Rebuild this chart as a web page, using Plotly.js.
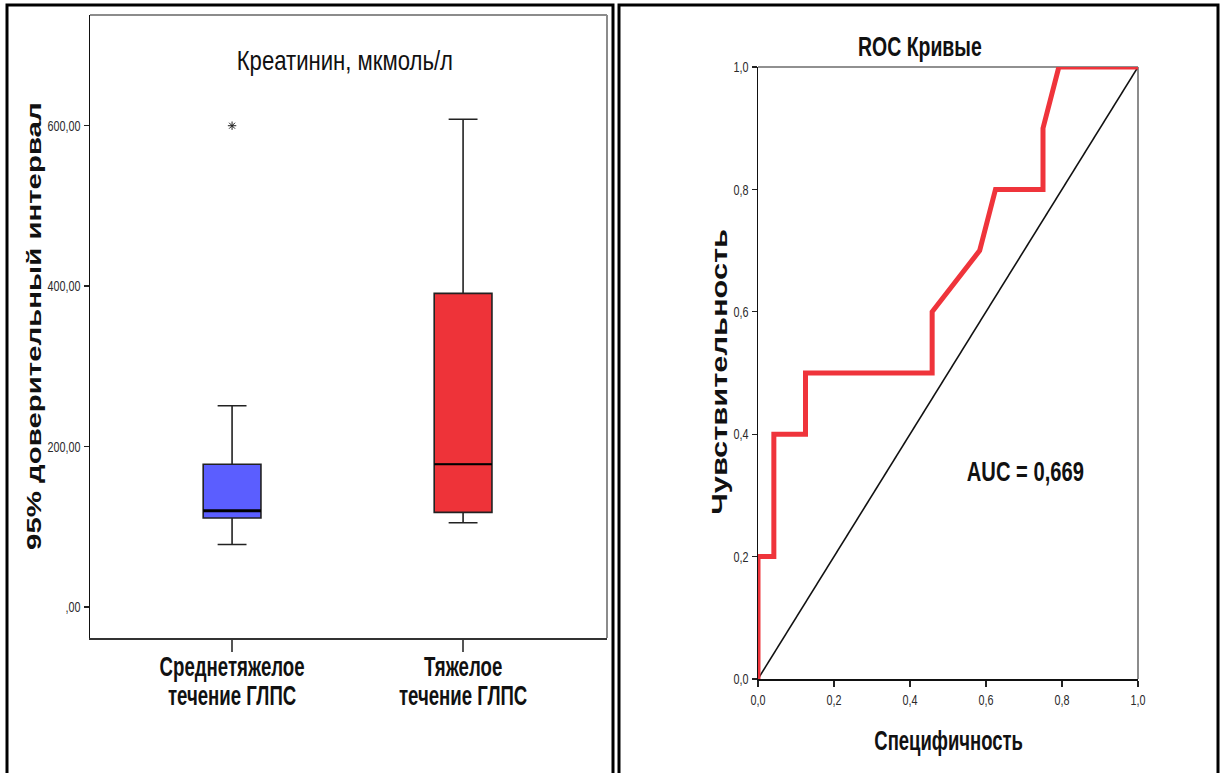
<!DOCTYPE html>
<html>
<head>
<meta charset="utf-8">
<script src="https://cdn.plot.ly/plotly-3.0.1.min.js"></script>
<style>
  html, body { margin: 0; padding: 0; background: #fff; }
  #chart { width: 1224px; height: 773px; }
</style>
</head>
<body>
<div id="chart"></div>
<script>
// Креатинин по группам тяжести ГЛПС (боксплоты)
const groupLabels = ['Среднетяжелое<br>течение ГЛПС', 'Тяжелое<br>течение ГЛПС'];
const groupPos = [0, 1];
const lowerFence = [78, 105];
const q1 = [111, 118];
const median = [120, 178];
const q3 = [178, 391];
const upperFence = [251, 608];
const outlierGroup = [0];
const outlierValue = [600];
const boxColors = ['#5b5eff', '#ee3339'];
const medianWidths = [3, 2];

const creatTickVals = [0, 200, 400, 600];
const creatTickText = [',00', '200,00', '400,00', '600,00'];

// ROC-кривая
const rocX = [0, 0, 0.0417, 0.0417, 0.125, 0.125, 0.4583, 0.4583, 0.5833, 0.625, 0.75, 0.75, 0.7917, 1];
const rocY = [0, 0.2, 0.2, 0.4, 0.4, 0.5, 0.5, 0.6, 0.7, 0.8, 0.8, 0.9, 1.0, 1.0];
const refX = [0, 1];
const refY = [0, 1];
const rocTickVals = [0, 0.2, 0.4, 0.6, 0.8, 1.0];
const rocTickText = ['0,0', '0,2', '0,4', '0,6', '0,8', '1,0'];
const aucText = 'AUC = 0,669';

const W = 1224, H = 773;
const px = v => v / W;
const py = v => 1 - v / H;
const BOX_W = 0.25;

const FONT = '"Liberation Sans", Arial, "DejaVu Sans", sans-serif';
// horizontal squeeze for upright text, stretch along the baseline for rotated captions
const NARROW = 0.72;
const CATEGORY_NARROW = 0.665;
const ROT_STRETCH = 1.4;
const textScale = {
  'Креатинин, мкмоль/л': 0.79,
  'Специфичность': 0.66,
  '95% доверительный интервал': ROT_STRETCH,
  'Чувствительность': ROT_STRETCH
};

const traces = [];
groupPos.forEach((pos, i) => {
  traces.push({
    type: 'box',
    x: [pos],
    q1: [q1[i]], median: [median[i]], q3: [q3[i]],
    lowerfence: [lowerFence[i]], upperfence: [upperFence[i]],
    fillcolor: boxColors[i],
    line: { color: '#222', width: 1.6 },
    width: BOX_W,
    whiskerwidth: 0.5,
    boxpoints: false,
    xaxis: 'x', yaxis: 'y',
    hoverinfo: 'skip',
    showlegend: false
  });
  // heavier median stroke
  traces.push({
    type: 'scatter', mode: 'lines',
    x: [pos - BOX_W / 2, pos + BOX_W / 2], y: [median[i], median[i]],
    line: { color: '#000', width: medianWidths[i] },
    xaxis: 'x', yaxis: 'y', hoverinfo: 'skip', showlegend: false
  });
});
traces.push({
  type: 'scatter', mode: 'markers',
  x: outlierGroup.map(g => groupPos[g]), y: outlierValue,
  marker: { symbol: 'asterisk-open', size: 7, color: '#222', line: { color: '#222', width: 1 } },
  xaxis: 'x', yaxis: 'y', hoverinfo: 'skip', showlegend: false
});
traces.push({
  type: 'scatter', mode: 'lines',
  x: refX, y: refY,
  line: { color: '#111', width: 1.6 },
  xaxis: 'x2', yaxis: 'y2', hoverinfo: 'skip', showlegend: false
});
traces.push({
  type: 'scatter', mode: 'lines',
  x: rocX, y: rocY,
  line: { color: '#ef343b', width: 5 },
  xaxis: 'x2', yaxis: 'y2', hoverinfo: 'skip', showlegend: false, cliponaxis: false
});

const tickFont = { family: FONT, size: 15, color: '#2a2a2a' };

const layout = {
  width: W, height: H,
  margin: { l: 0, r: 0, t: 0, b: 0 },
  paper_bgcolor: '#fff', plot_bgcolor: '#fff',
  showlegend: false,
  xaxis: {
    domain: [px(90), px(607)],
    range: [-0.615, 1.623],
    tickvals: groupPos, ticktext: groupLabels,
    ticks: 'outside', ticklen: 12, tickwidth: 1.3, tickcolor: '#555',
    ticklabelstandoff: -9,
    tickfont: { family: FONT, size: 28, color: '#111', weight: 'bold' },
    showline: true, linecolor: '#333', linewidth: 1.5,
    showgrid: false, zeroline: false, fixedrange: true
  },
  yaxis: {
    domain: [py(638), py(15)],
    range: [-38.6, 738],
    tickvals: creatTickVals, ticktext: creatTickText,
    ticks: 'outside', ticklen: 5, tickwidth: 1.3, tickcolor: '#222',
    tickfont: tickFont,
    showline: true, linecolor: '#111', linewidth: 1.5,
    showgrid: false, zeroline: false, fixedrange: true
  },
  xaxis2: {
    domain: [px(758), px(1138)],
    range: [0, 1],
    tickvals: rocTickVals, ticktext: rocTickText,
    ticks: 'outside', ticklen: 6, tickwidth: 1.3, tickcolor: '#222',
    tickfont: tickFont,
    showline: true, linecolor: '#111', linewidth: 1.5,
    showgrid: false, zeroline: false, fixedrange: true,
    anchor: 'y2'
  },
  yaxis2: {
    domain: [py(679), py(67)],
    range: [0, 1],
    tickvals: rocTickVals, ticktext: rocTickText,
    ticks: 'outside', ticklen: 5, tickwidth: 1.3, tickcolor: '#222',
    tickfont: tickFont,
    showline: true, linecolor: '#111', linewidth: 1.5,
    showgrid: false, zeroline: false, fixedrange: true,
    anchor: 'x2'
  },
  shapes: [
    // panel frames
    { type: 'rect', xref: 'paper', yref: 'paper', x0: px(7), x1: px(613), y0: -0.05, y1: py(5),
      line: { color: '#000', width: 3 } },
    { type: 'rect', xref: 'paper', yref: 'paper', x0: px(619), x1: px(1218), y0: -0.05, y1: py(5),
      line: { color: '#000', width: 3 } },
    // upper and right edges of each plot area
    { type: 'line', xref: 'x domain', yref: 'y domain', x0: 0, x1: 1, y0: 1, y1: 1,
      line: { color: '#8c8c8c', width: 2 } },
    { type: 'line', xref: 'x domain', yref: 'y domain', x0: 1, x1: 1, y0: 0, y1: 1,
      line: { color: '#8c8c8c', width: 2 } },
    { type: 'line', xref: 'x2 domain', yref: 'y2 domain', x0: 0, x1: 1, y0: 1, y1: 1,
      line: { color: '#909090', width: 2 }, layer: 'below' },
    { type: 'line', xref: 'x2 domain', yref: 'y2 domain', x0: 1, x1: 1, y0: 0, y1: 1,
      line: { color: '#666', width: 1.5 }, layer: 'below' }
  ],
  annotations: [
    { text: 'Креатинин, мкмоль/л', xref: 'paper', yref: 'paper', x: px(345), y: py(60),
      showarrow: false, xanchor: 'center', yanchor: 'middle',
      font: { family: FONT, size: 28, color: '#111' } },
    { text: '95% доверительный интервал', xref: 'paper', yref: 'paper', x: px(33), y: py(326),
      showarrow: false, textangle: -90, xanchor: 'center', yanchor: 'middle',
      font: { family: FONT, size: 21, color: '#111', weight: 'bold' } },
    { text: 'ROC Кривые', xref: 'paper', yref: 'paper', x: px(920), y: py(47),
      showarrow: false, xanchor: 'center', yanchor: 'middle',
      font: { family: FONT, size: 27, color: '#111', weight: 'bold' } },
    { text: 'Чувствительность', xref: 'paper', yref: 'paper', x: px(719), y: py(372),
      showarrow: false, textangle: -90, xanchor: 'center', yanchor: 'middle',
      font: { family: FONT, size: 22, color: '#111', weight: 'bold' } },
    { text: 'Специфичность', xref: 'paper', yref: 'paper', x: px(948), y: py(740),
      showarrow: false, xanchor: 'center', yanchor: 'middle',
      font: { family: FONT, size: 28, color: '#111', weight: 'bold' } },
    { text: aucText, xref: 'paper', yref: 'paper', x: px(1025), y: py(471),
      showarrow: false, xanchor: 'center', yanchor: 'middle',
      font: { family: FONT, size: 28, color: '#111', weight: 'bold' } }
  ]
};

// scale a text run along its baseline, keeping its anchor
function scaleRun(el, factor) {
  const len = el.getComputedTextLength();
  if (!len) return;
  el.setAttribute('textLength', (len * factor).toFixed(2));
  el.setAttribute('lengthAdjust', 'spacingAndGlyphs');
}
function scaleText(textEl, factor) {
  const lines = textEl.querySelectorAll('tspan.line');
  if (lines.length) lines.forEach(l => scaleRun(l, factor));
  else scaleRun(textEl, factor);
}

Plotly.newPlot('chart', traces, layout, { staticPlot: true }).then(gd => {
  gd.querySelectorAll('.ytick text, .x2tick text, .y2tick text')
    .forEach(t => scaleText(t, NARROW));
  // category labels: narrower glyphs and tighter line spacing
  gd.querySelectorAll('.xtick text').forEach(t => {
    scaleText(t, CATEGORY_NARROW);
    t.querySelectorAll('tspan.line').forEach((l, i) => l.setAttribute('dy', (i * 1.04) + 'em'));
  });
  gd.querySelectorAll('.annotation-text').forEach(t => {
    scaleText(t, textScale[t.textContent] || NARROW);
  });
});
</script>
</body>
</html>
